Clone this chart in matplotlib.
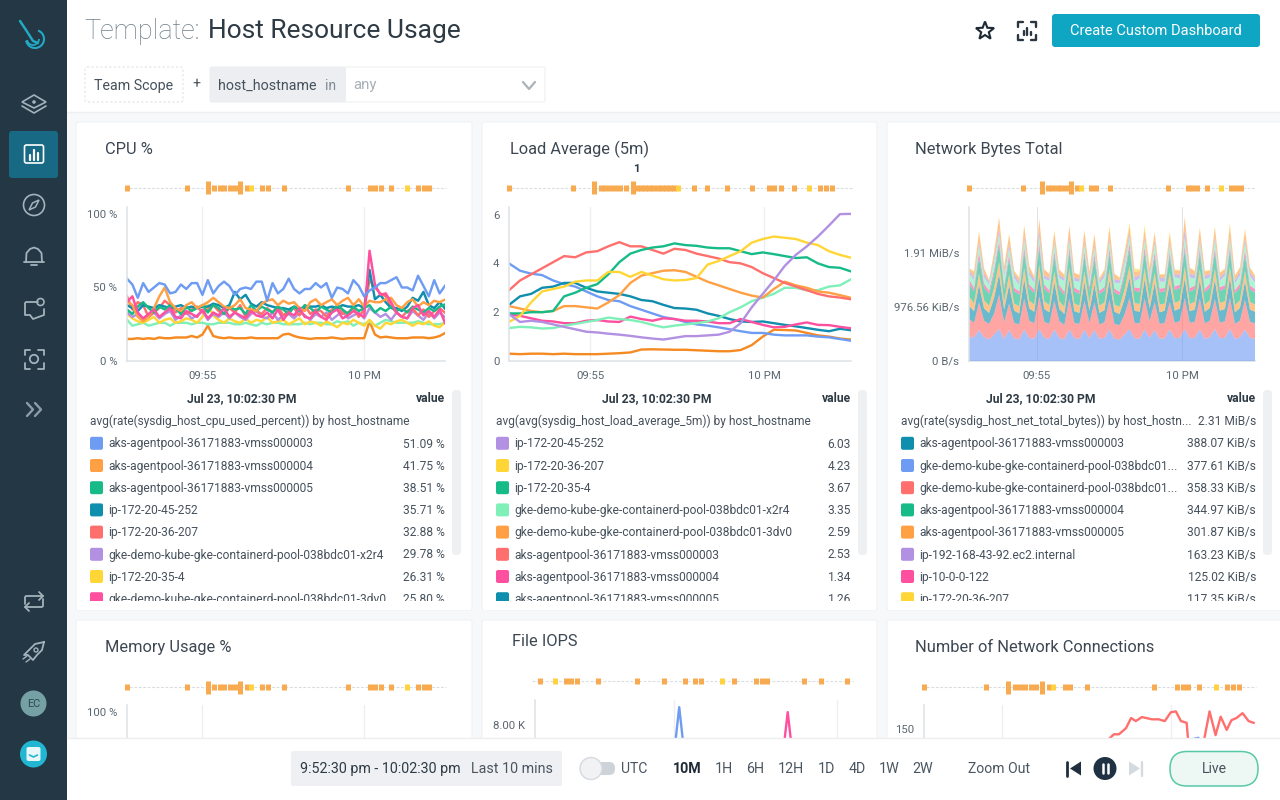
import math
import numpy as np
import matplotlib
matplotlib.use("Agg")
import matplotlib.pyplot as plt
from matplotlib.patches import FancyBboxPatch, Rectangle, Circle, Polygon, Arc

plt.rcParams['font.family'] = ['Roboto', 'DejaVu Sans']

# ---------- data ----------
page_title_prefix = "Template:"
page_title = "Host Resource Usage"
panel_titles = ["CPU %", "Load Average (5m)", "Network Bytes Total", "Memory Usage %", "File IOPS",
                "Number of Network Connections"]
time_ticks = [5, 10]
time_tick_labels = ["09:55", "10 PM"]

event_times = [2.67, 4.51, 5.17, 5.37, 5.53, 5.68, 5.84, 6.0, 6.17, 6.37, 6.51, 6.85, 7.02, 7.51, 9.51, 10.18,
               10.35, 10.51, 10.84, 11.34, 11.67, 11.84, 12.02]
event_tall = [5.17, 6.17]
event_yellow = [6.51, 11.34]
load_event_times = [2.67, 4.51, 5.11, 5.3, 5.43, 5.58, 5.72, 5.85, 6.02, 6.22, 6.34, 6.46, 6.58, 6.7, 6.82, 6.94,
                    7.06, 7.18, 7.3, 7.42, 7.54, 8.0, 8.35, 8.95, 9.65, 10.15, 10.3, 10.5, 10.85, 11.3, 11.62,
                    11.78, 11.95]
load_event_tall = [5.11, 6.22]
load_event_yellow = [7.54, 11.3]
iops_event_times = [0.86, 1.34, 1.67, 1.82, 2.0, 2.65, 3.86, 4.69, 5.34, 5.65, 5.83, 6.48, 6.85, 7.5, 7.69, 7.84,
                    8.98, 9.51, 10.31]
iops_event_yellow = [1.34, 6.48]

cpu_blue = [56, 52, 43, 53, 47, 50, 53, 52, 46, 47, 52, 49, 53, 53, 45, 55, 46, 51, 54, 51, 45, 49, 50, 49, 54, 54,
            41, 53, 46, 49, 56, 49, 46, 49, 49, 53, 50, 53, 43, 50, 49, 46, 55, 51, 44, 48, 50, 53, 53, 55, 57, 50,
            50, 48, 58, 51, 44, 55, 46, 51.09]
cpu_orange = [41, 38, 30, 27, 30, 36, 44, 50, 40, 36, 34, 38, 40, 36, 38, 40, 43, 40, 37, 36, 38, 42, 36, 35, 34, 39,
              41, 42, 38, 41, 39, 40, 36, 34, 40, 42, 38, 40, 42, 38, 41, 43, 38, 42, 37, 41, 40, 40, 42, 43, 38, 36,
              40, 42, 37, 40, 38, 41, 40, 41.75]
cpu_green = [35, 32, 37, 40, 36, 33, 37, 35, 38, 36, 32, 37, 34, 36, 38, 33, 38, 36, 32, 37, 35, 36, 32, 38, 34, 37,
             35, 33, 37, 35, 32, 37, 34, 38, 36, 33, 37, 35, 33, 38, 35, 32, 37, 34, 36, 38, 33, 36, 34, 37, 34, 36,
             33, 37, 35, 33, 36, 34, 37, 38.51]
cpu_teal = [38, 36, 34, 38, 37, 36, 38, 37, 36, 37, 38, 36, 37, 36, 37, 37, 39, 38, 36, 38, 47, 42, 45, 39, 37, 40,
            38, 37, 36, 36, 35, 37, 36, 36, 37, 37, 38, 36, 37, 36, 38, 37, 37, 38, 36, 62, 42, 45, 40, 36, 36, 34,
            37, 43, 41, 47, 38, 36, 40, 35.71]
cpu_salmon = [44, 35, 40, 38, 30, 33, 36, 41, 38, 33, 36, 32, 35, 37, 33, 35, 38, 34, 32, 36, 33, 38, 30, 35, 34, 32,
              36, 33, 37, 31, 34, 36, 31, 38, 32, 35, 34, 30, 35, 37, 32, 33, 36, 30, 35, 55, 50, 46, 44, 37, 33, 30,
              34, 36, 31, 35, 30, 34, 36, 32.88]
cpu_purple = [33, 30, 32, 28, 30, 33, 29, 32, 34, 28, 31, 33, 29, 31, 34, 28, 32, 30, 33, 29, 33, 30, 28, 32, 34, 30,
              29, 33, 28, 31, 32, 29, 33, 31, 28, 32, 30, 33, 28, 31, 34, 29, 31, 33, 29, 36, 33, 30, 32, 28, 33, 30,
              29, 34, 31, 28, 33, 29, 33, 29.78]
cpu_yellow = [32, 29, 27, 26, 28, 30, 26, 28, 29, 26, 27, 29, 28, 26, 30, 38, 31, 28, 26, 29, 27, 26, 29, 26, 28, 27,
              30, 26, 27, 28, 25, 27, 29, 25, 27, 26, 24, 27, 25, 23, 26, 25, 28, 26, 24, 28, 24, 22, 26, 25, 27, 28,
              26, 24, 26, 25, 27, 24, 23, 26.31]
cpu_pink = [40, 44, 33, 29, 32, 35, 30, 33, 36, 30, 29, 34, 32, 30, 35, 29, 33, 31, 36, 30, 33, 31, 29, 34, 31, 30,
            33, 29, 35, 28, 33, 31, 36, 30, 29, 34, 30, 28, 33, 35, 29, 31, 34, 32, 30, 75, 52, 45, 46, 40, 33, 30,
            29, 36, 38, 31, 34, 30, 35, 25.8]
cpu_mint = [28, 24, 25, 26, 24, 25, 26, 26, 24, 26, 26, 26, 25, 26, 26, 25, 25, 26, 26, 26, 25, 25, 26, 25, 24, 26,
            25, 26, 26, 25, 25, 25, 25, 26, 25, 26, 26, 25, 25, 27, 26, 27, 24, 26, 25, 27, 24, 26, 28, 27, 26, 26,
            26, 26, 27, 26, 25, 25, 25, 26]
cpu_dark = [15, 15, 15.5, 15, 15.5, 15, 16, 15.5, 15.5, 16, 16, 16, 17, 16, 18, 24, 17, 16, 15.5, 16, 15.5, 15.5,
            15.5, 16, 15.5, 15.5, 15.5, 15.5, 15.5, 18, 18.5, 17, 16, 15.5, 15, 15.5, 15.5, 15.5, 16, 15.5, 15, 15.5,
            15.5, 15.5, 15.5, 27, 18, 16, 16.5, 16, 15.5, 15.5, 15.5, 16, 16, 16, 15.5, 16, 17, 19]

load_salmon = [2.9, 3.3, 3.55, 3.8, 4.05, 4.3, 4.25, 4.45, 4.5, 4.7, 4.87, 4.7, 4.7, 4.55, 4.4, 4.6, 4.55, 4.4, 4.3,
               4.2, 4.05, 4.0, 3.85, 3.6, 3.4, 3.2, 3.05, 2.9, 2.75, 2.65, 2.6, 2.53]
load_green = [1.95, 1.95, 2.0, 2.0, 2.05, 2.65, 2.8, 3.0, 3.15, 3.55, 4.05, 4.4, 4.55, 4.65, 4.7, 4.82, 4.75, 4.72,
              4.65, 4.62, 4.62, 4.5, 4.38, 4.45, 4.38, 4.3, 4.22, 4.25, 4.0, 3.85, 3.82, 3.67]
load_yellow = [1.6, 1.85, 2.4, 2.85, 2.95, 3.05, 3.25, 3.3, 3.3, 3.65, 3.65, 3.45, 3.65, 3.5, 3.35, 3.3, 3.32, 3.4,
               3.95, 4.1, 4.3, 4.5, 4.85, 5.0, 5.1, 5.05, 5.0, 4.85, 4.75, 4.5, 4.35, 4.23]
load_orange = [2.25, 2.15, 2.05, 2.0, 2.05, 2.25, 2.25, 2.2, 2.15, 2.4, 2.7, 3.2, 3.5, 3.6, 3.7, 3.72, 3.65, 3.45,
               3.25, 3.1, 2.95, 2.8, 2.68, 2.6, 2.95, 3.25, 3.1, 3.0, 2.85, 2.8, 2.7, 2.59]
load_mint = [1.35, 1.4, 1.38, 1.33, 1.35, 1.45, 1.52, 1.6, 1.68, 1.78, 1.72, 1.68, 1.6, 1.48, 1.38, 1.45, 1.5, 1.55,
             1.62, 1.75, 2.0, 2.2, 2.45, 2.6, 2.75, 3.0, 3.0, 2.9, 2.9, 3.05, 3.1, 3.35]
load_teal = [2.3, 2.65, 2.75, 3.0, 3.05, 3.2, 3.2, 3.0, 2.85, 2.8, 2.75, 2.65, 2.5, 2.45, 2.3, 2.17, 2.15, 2.1, 1.95,
             1.85, 1.72, 1.62, 1.6, 1.62, 1.55, 1.48, 1.42, 1.35, 1.28, 1.22, 1.32, 1.26]
load_blue = [4.0, 3.7, 3.58, 3.52, 3.3, 3.15, 3.05, 2.85, 2.65, 2.5, 2.45, 2.25, 2.1, 1.95, 1.8, 1.72, 1.6, 1.5, 1.45,
             1.38, 1.3, 1.22, 1.15, 1.15, 1.08, 1.05, 1.05, 1.05, 1.0, 0.97, 0.9, 0.83]
load_pink = [1.9, 1.85, 1.75, 1.65, 1.62, 1.55, 1.55, 1.65, 1.68, 1.62, 1.6, 1.82, 1.72, 1.65, 1.75, 1.72, 1.65, 1.65,
             1.62, 1.55, 1.55, 1.72, 1.6, 1.48, 1.38, 1.4, 1.5, 1.58, 1.48, 1.47, 1.4, 1.34]
load_purple = [1.92, 1.6, 1.65, 1.6, 1.5, 1.4, 1.3, 1.2, 1.17, 1.12, 1.08, 1.03, 0.97, 0.92, 0.88, 0.95, 1.02, 1.02,
               1.05, 1.08, 1.2, 1.55, 2.2, 2.75, 3.3, 3.9, 4.35, 4.7, 5.1, 5.55, 6.02, 6.03]
load_dark = [0.3, 0.28, 0.3, 0.3, 0.28, 0.3, 0.28, 0.28, 0.28, 0.3, 0.32, 0.35, 0.47, 0.48, 0.47, 0.46, 0.46, 0.44,
             0.42, 0.4, 0.4, 0.45, 0.65, 1.0, 1.28, 1.27, 1.25, 1.15, 1.05, 1.0, 0.92, 0.88]

net_blue = [430, 430, 560, 430, 390, 480, 580, 400, 560, 410, 390, 570, 420, 400, 580, 420, 400, 570, 420, 390, 570,
            410, 400, 570, 410, 560, 400, 420, 570, 400, 390, 480, 580, 410, 400, 570, 420, 560, 400, 410, 570, 410,
            420, 580, 410, 420, 570, 400, 430, 580, 410, 420, 580, 400, 430, 570, 420, 400]
net_salmon = [330, 260, 500, 300, 280, 380, 620, 300, 480, 280, 270, 560, 310, 280, 590, 290, 270, 520, 300, 260, 560,
              280, 270, 520, 280, 500, 260, 280, 540, 270, 260, 360, 560, 280, 280, 560, 300, 510, 270, 280, 500, 280,
              300, 560, 280, 290, 560, 280, 300, 540, 280, 300, 560, 270, 300, 530, 290, 280]
net_teal = [240, 210, 320, 220, 200, 280, 370, 230, 330, 220, 200, 350, 220, 210, 360, 230, 210, 340, 220, 200, 350,
            210, 200, 340, 220, 330, 210, 220, 350, 220, 200, 280, 370, 220, 210, 350, 230, 340, 210, 220, 340, 220,
            230, 350, 210, 220, 340, 210, 230, 350, 220, 220, 360, 210, 230, 340, 220, 210]
net_orange = [170, 140, 200, 150, 130, 180, 220, 140, 190, 130, 130, 200, 140, 130, 210, 140, 130, 190, 140, 130, 200,
              140, 130, 190, 140, 190, 130, 140, 200, 130, 130, 170, 210, 140, 140, 200, 140, 190, 140, 130, 190, 140,
              140, 210, 130, 140, 190, 130, 140, 200, 140, 140, 200, 130, 140, 190, 140, 130]
net_green = [230, 220, 290, 230, 210, 260, 300, 230, 280, 220, 210, 290, 230, 210, 300, 230, 210, 280, 230, 210, 290,
             220, 210, 280, 220, 270, 210, 220, 290, 220, 210, 250, 310, 220, 220, 290, 230, 280, 220, 220, 290, 230,
             230, 300, 220, 230, 280, 220, 230, 290, 220, 230, 290, 210, 230, 280, 230, 220]
net_pink = [80, 60, 90, 70, 60, 70, 85, 60, 80, 65, 60, 90, 65, 60, 85, 70, 60, 80, 60, 65, 85, 70, 60, 75, 65, 85, 60,
            60, 85, 70, 60, 70, 90, 60, 65, 90, 60, 85, 70, 60, 80, 65, 60, 85, 70, 60, 90, 60, 70, 85, 65, 60, 85, 60,
            70, 90, 65, 60]
net_mint = [100, 150, 130, 120, 110, 150, 130, 170, 120, 180, 110, 140, 170, 120, 130, 110, 170, 140, 130, 190, 130,
            120, 160, 140, 110, 120, 130, 180, 130, 110, 150, 160, 120, 110, 180, 130, 110, 160, 130, 110, 140, 170,
            110, 160, 190, 130, 130, 180, 110, 150, 120, 170, 130, 120, 150, 140, 170, 120]
net_lavender = [60, 50, 60, 60, 50, 60, 90, 70, 70, 60, 60, 70, 60, 70, 110, 60, 50, 60, 60, 50, 70, 50, 60, 60, 60,
                60, 50, 60, 60, 60, 60, 70, 70, 70, 60, 60, 60, 70, 80, 60, 60, 60, 60, 150, 70, 60, 70, 60, 60, 60, 60,
                60, 60, 60, 60, 70, 70, 60]
net_top_orange = [30, 90, 170, 90, 30, 100, 190, 100, 170, 60, 70, 170, 100, 40, 190, 100, 70, 150, 90, 60, 180, 90,
                  60, 170, 110, 170, 40, 70, 170, 90, 40, 110, 120, 100, 70, 130, 130, 120, 40, 70, 120, 70, 80, 200,
                  100, 70, 160, 80, 60, 160, 80, 60, 170, 80, 70, 150, 80, 60]
net_yellow = [10, 20, 30, 10, 10, 20, 15, 10, 20, 10, 10, 20, 10, 10, 15, 10, 10, 30, 10, 10, 15, 10, 10, 25, 10, 25,
              10, 10, 50, 10, 15, 30, 70, 60, 30, 70, 40, 20, 10, 15, 60, 10, 15, 10, 10, 15, 30, 10, 15, 20, 10, 15,
              60, 10, 20, 40, 10, 15]

conn_times = [8.17, 8.31, 8.46, 8.67, 8.82, 8.96, 9.14, 9.44, 9.64, 9.82, 10.0, 10.15, 10.30, 10.47, 10.53, 10.95,
              11.15, 11.33, 11.48, 11.66, 11.80, 11.95, 12.13, 12.31, 12.46]
conn_salmon = [139, 144, 144, 151, 162.5, 159, 163.6, 161, 161, 159, 169, 170, 159, 157, 130, 130, 170, 143, 164, 149,
               160, 162.5, 168, 159, 157]
conn_blue_times = [10.05, 10.3, 10.5, 10.7, 10.82, 10.95]
conn_blue = [130, 137, 134, 139, 140, 128]

iops_blue_times = [4.65, 5.15, 5.65]
iops_blue = [300, 9066, 300]
iops_pink_times = [7.99, 8.49, 8.99]
iops_pink = [300, 8770, 300]

BLUE, ORANGE, GREEN, TEAL, SALMON = '#6f9cf3', '#ffa044', '#16bb88', '#108eae', '#ff6f6d'
PURPLE, YELLOW, PINK, MINT, DARK = '#b290e2', '#ffd635', '#ff4f9f', '#7ff0b8', '#f68a22'

legend_time = "Jul 23, 10:02:30 PM"
legend_cpu_metric = "avg(rate(sysdig_host_cpu_used_percent)) by host_hostname"
legend_cpu = [(BLUE, "aks-agentpool-36171883-vmss000003", "51.09 %"), (ORANGE, "aks-agentpool-36171883-vmss000004", "41.75 %"),
              (GREEN, "aks-agentpool-36171883-vmss000005", "38.51 %"), (TEAL, "ip-172-20-45-252", "35.71 %"),
              (SALMON, "ip-172-20-36-207", "32.88 %"), (PURPLE, "gke-demo-kube-gke-containerd-pool-038bdc01-x2r4", "29.78 %"),
              (YELLOW, "ip-172-20-35-4", "26.31 %"), (PINK, "gke-demo-kube-gke-containerd-pool-038bdc01-3dv0", "25.80 %")]
legend_load_metric = "avg(avg(sysdig_host_load_average_5m)) by host_hostname"
legend_load = [(PURPLE, "ip-172-20-45-252", "6.03"), (YELLOW, "ip-172-20-36-207", "4.23"), (GREEN, "ip-172-20-35-4", "3.67"),
               (MINT, "gke-demo-kube-gke-containerd-pool-038bdc01-x2r4", "3.35"),
               (ORANGE, "gke-demo-kube-gke-containerd-pool-038bdc01-3dv0", "2.59"),
               (SALMON, "aks-agentpool-36171883-vmss000003", "2.53"), (PINK, "aks-agentpool-36171883-vmss000004", "1.34"),
               (TEAL, "aks-agentpool-36171883-vmss000005", "1.26")]
legend_net_metric = "avg(rate(sysdig_host_net_total_bytes)) by host_hostn..."
legend_net_total = "2.31 MiB/s"
legend_net = [(TEAL, "aks-agentpool-36171883-vmss000003", "388.07 KiB/s"),
              (BLUE, "gke-demo-kube-gke-containerd-pool-038bdc01...", "377.61 KiB/s"),
              (SALMON, "gke-demo-kube-gke-containerd-pool-038bdc01...", "358.33 KiB/s"),
              (GREEN, "aks-agentpool-36171883-vmss000004", "344.97 KiB/s"),
              (ORANGE, "aks-agentpool-36171883-vmss000005", "301.87 KiB/s"),
              (PURPLE, "ip-192-168-43-92.ec2.internal", "163.23 KiB/s"), (PINK, "ip-10-0-0-122", "125.02 KiB/s"),
              (YELLOW, "ip-172-20-36-207", "117.35 KiB/s")]
range_labels = ["10M", "1H", "6H", "12H", "1D", "4D", "1W", "2W"]
range_x = [687, 724, 755, 791, 826, 857, 889, 923]

# ---------- layout ----------
W, H = 1280, 800
fig = plt.figure(figsize=(12.8, 8), dpi=100, facecolor='#f7f8f9')


def overlay(z):
    a = fig.add_axes([0, 0, 1, 1], zorder=z)
    a.set_xlim(0, W)
    a.set_ylim(H, 0)
    a.axis('off')
    a.patch.set_alpha(0)
    return a


bg = overlay(0)
fg = overlay(5)
PT = 0.72
TXT = '#46515c'


def txt(a, x, y, s, px=12, c=TXT, ha='left', w='normal', **k):
    a.text(x, y + 0.7, s, fontsize=px * PT, color=c, ha=ha, va='center', fontweight=w, **k)


def box(a, x0, y0, x1, y1, fc, ec='none', r=2, lw=1, z=2, **k):
    a.add_patch(FancyBboxPatch((x0, y0), x1 - x0, y1 - y0, boxstyle=f"round,pad=0,rounding_size={r}", fc=fc, ec=ec,
                               lw=lw, zorder=z, **k))


def pline(a, xs, ys, c, lw=1.2, z=6, **k):
    a.plot(xs, ys, color=c, lw=lw, zorder=z, solid_capstyle='round', solid_joinstyle='round', **k)


# page chrome
bg.add_patch(Rectangle((0, 0), W, 112, fc='white', ec='none', zorder=1))
pline(bg, [0, W], [112, 112], '#eceef0', 1, 1.5)
for x0, x1, y0, y1 in [(76, 472, 122, 610), (482, 877, 122, 610), (887, 1285, 122, 610), (76, 472, 620, 760),
                       (482, 877, 620, 760), (887, 1285, 620, 760)]:
    box(bg, x0, y0, x1, y1, 'white', '#f0f1f3', 2, 0.8, 2)

txt(bg, 84, 30.5, page_title_prefix, 27, '#6f7f88', w='light')
txt(bg, 208, 30.5, page_title, 26.4, '#2e3a44', w='normal')
bg.add_patch(FancyBboxPatch((85, 67), 98, 35, boxstyle="round,pad=0,rounding_size=2", fc='white', ec='#dfe2e6', lw=0.8,
                            ls=(0, (2, 2)), zorder=3))
txt(bg, 94, 85, "Team Scope", 14.3, TXT)
txt(bg, 196, 84, "+", 14, TXT, ha='center')
box(bg, 210, 67, 545, 102, 'white', '#eef0f2', 2, 0.8, 3)
box(bg, 210, 67, 346, 102, '#eceef1', 'none', 2, 1, 3)
txt(bg, 218, 85, "host_hostname", 14.3, TXT)
txt(bg, 325, 85, "in", 14, '#7f8a94')
txt(bg, 353, 84.5, "any", 15, '#a8b0b8')
pline(bg, [523, 529, 535], [82, 89, 82], '#aab2ba', 1.6)
box(bg, 1052, 14, 1260, 47, '#0fa6c4', 'none', 3, 1, 3)
txt(bg, 1156, 30.5, "Create Custom Dashboard", 14.6, 'white', ha='center')
star = [(985 + (9.5 if i % 2 == 0 else 4) * math.sin(i * math.pi / 5),
         31 - (9.5 if i % 2 == 0 else 4) * math.cos(i * math.pi / 5)) for i in range(10)]
bg.add_patch(Polygon(star, closed=True, fc='none', ec='#1e2a35', lw=1.5, zorder=4))
for sx, sy in [(-1, -1), (1, -1), (1, 1), (-1, 1)]:
    pline(bg, [1027 + sx * 9, 1027 + sx * 9, 1027 + sx * 4], [31 + sy * 4, 31 + sy * 9, 31 + sy * 9], '#2a3742', 1.7)
for dx, h in [(-3.5, 4), (0, 7), (3.5, 3)]:
    pline(bg, [1027 + dx, 1027 + dx], [35, 35 - h], '#2a3742', 1.7)

for (x, y), s in zip([(105, 149), (510, 149), (915, 149), (105, 647), (512, 641), (915, 647)], panel_titles):
    txt(bg, x, y, s, 16.4, '#3c4752')
txt(bg, 636, 168, "1", 11.5, '#2e3a44', ha='center', w='bold')


def legend(x_sw, x_right, center, scroll_x, metric, rows, total=None):
    txt(bg, center, 398, legend_time, 12.1, '#2e3a44', ha='center', w='bold')
    txt(bg, x_right, 398, "value", 12.1, '#2e3a44', ha='right', w='bold')
    txt(bg, x_sw, 421, metric, 11.9)
    if total:
        txt(bg, x_right, 421, total, 12, ha='right')
    for i, (c, name, val) in enumerate(rows):
        y = 443.3 + i * 22.2
        box(bg, x_sw, y - 6.5, x_sw + 13, y + 6.5, c, 'none', 2, 1, 3)
        txt(bg, x_sw + 18, y, name, 12)
        txt(bg, x_right, y, val, 12, ha='right')
    box(bg, scroll_x, 390, scroll_x + 9, 555, '#eef0f2', 'none', 4, 1, 3)


legend(90, 445, 242, 452, legend_cpu_metric, legend_cpu)
legend(496, 851, 656.5, 858, legend_load_metric, legend_load)
legend(901, 1256, 1041, 1263, legend_net_metric, legend_net, legend_net_total)
for x0, x1 in [(77, 471), (483, 876), (888, 1280)]:
    bg.add_patch(Rectangle((x0, 600.5), x1 - x0, 9, fc='white', ec='none', zorder=20))


def chart(x0, x1, y_top, y_bot, xlim, ylim, yticks, ylabels, events, tall=(), yellow=(), strip_y=188, ext=(2, 1),
          xlabels=time_tick_labels):
    a = fig.add_axes([x0 / W, 1 - y_bot / H, (x1 - x0) / W, (y_bot - y_top) / H], zorder=2)
    a.patch.set_alpha(0)
    a.set_xlim(*xlim)
    a.set_ylim(*ylim)
    for s in ['top', 'right']:
        a.spines[s].set_visible(False)
    for s in ['left', 'bottom']:
        a.spines[s].set_color('#dde1e6')
        a.spines[s].set_linewidth(1.1)
    a.set_xticks(time_ticks, xlabels)
    a.set_yticks(yticks, ylabels)
    a.tick_params(axis='both', length=0, colors='#5a6670', labelsize=11.4 * PT)
    a.tick_params(axis='y', pad=7)
    a.tick_params(axis='x', pad=7)
    a.grid(axis='x', color='#eceef1', lw=0.9)
    a.set_axisbelow(True)
    h = y_bot - y_top
    fy = (y_bot - strip_y) / h
    tr = a.get_xaxis_transform()
    px_t = (xlim[1] - xlim[0]) / (x1 - x0)
    a.plot([xlim[0] - ext[0] * px_t, xlim[1] + ext[1] * px_t], [fy, fy], transform=tr, color='#d9dce0', lw=0.8,
           ls=(0, (2.5, 1.5)), clip_on=False, zorder=1)
    for t in events:
        d = (6.5 if t in tall else 3.4) / h
        col = '#ffd23f' if t in yellow else '#f8aa50'
        a.plot([t, t], [fy - d, fy + d], transform=tr, color=col, lw=5 * PT, clip_on=False,
               solid_capstyle='butt', zorder=2)
    return a


XL = (2.67, 12.5)
cpu_ax = chart(127, 445, 207, 361, XL, (0, 154 / 1.47), [0, 50, 100], ["0 %", "50 %", "100 %"], event_times, event_tall,
               event_yellow)
for vals, c in [(cpu_dark, DARK), (cpu_mint, MINT), (cpu_yellow, YELLOW), (cpu_purple, PURPLE), (cpu_salmon, SALMON),
                (cpu_teal, TEAL), (cpu_green, GREEN), (cpu_orange, ORANGE), (cpu_pink, PINK), (cpu_blue, BLUE)]:
    cpu_ax.plot(np.linspace(XL[0], XL[1], len(vals)), vals, color=c, lw=1.75, solid_joinstyle='round')

load_ax = chart(509, 851, 207, 361, XL, (0, 154 / 24.4), [0, 2, 4, 6], ["0", "2", "4", "6"], load_event_times,
                load_event_tall, load_event_yellow)
for vals, c in [(load_dark, DARK), (load_blue, BLUE), (load_teal, TEAL), (load_pink, PINK), (load_mint, MINT),
                (load_orange, ORANGE), (load_salmon, SALMON), (load_green, GREEN), (load_yellow, YELLOW),
                (load_purple, PURPLE)]:
    load_ax.plot(np.linspace(XL[0], XL[1], len(vals)), vals, color=c, lw=1.7, solid_joinstyle='round')

net_ax = chart(969, 1255, 207, 361, XL, (0, 154 * 18.08), [0, 976.56, 1953.1], ["0 B/s", "976.56 KiB/s", "1.91 MiB/s"],
               event_times, event_tall, event_yellow)
net_layers = [net_blue, net_salmon, net_teal, net_orange, net_green, net_pink, net_mint, net_lavender, net_top_orange,
              net_yellow]
net_colors = [BLUE, SALMON, TEAL, ORANGE, GREEN, PINK, MINT, PURPLE, ORANGE, YELLOW]
net_ax.stackplot(np.linspace(XL[0], XL[1], len(net_blue)), net_layers, colors=net_colors, alpha=0.62, lw=0, zorder=3)
net_ax.set_axisbelow(False)
net_ax.grid(axis='x', color='#a9adb5', lw=0.5, alpha=0.5)
net_ax.spines['left'].set_zorder(5)

no_x = ["", ""]
mem_ax = chart(127, 445, 705, 859, XL, (0, 154 / 1.47), [100], ["100 %"], event_times, event_tall,
               event_yellow, strip_y=687, xlabels=no_x)

iops_ax = chart(535, 853, 700, 860, (0.71, 10.5), (0, 160 * 59.3), [8000], ["8.00 K"],
                iops_event_times, (), iops_event_yellow, strip_y=681, ext=(3, 0), xlabels=no_x)
iops_ax.plot(iops_blue_times, iops_blue, color=BLUE, lw=1.7)
iops_ax.plot(iops_pink_times, iops_pink, color=PINK, lw=1.7)

conn_ax = chart(924, 1255, 705, 861, XL, (0, 156 / 0.88), [150], ["150"], event_times,
                event_tall, event_yellow, strip_y=687, xlabels=no_x)
conn_ax.plot(conn_blue_times, conn_blue, color=BLUE, lw=1.7)
conn_ax.plot(conn_times, conn_salmon, color=SALMON, lw=1.7)

# footer
fg.add_patch(Rectangle((67, 738), W, 62, fc='white', ec='none', zorder=1))
pline(fg, [67, W], [738, 738], '#eceef0', 1, 1.5)
box(fg, 291, 751, 562, 786, '#eef0f3', 'none', 2, 1, 2)
txt(fg, 300, 768, "9:52:30 pm - 10:02:30 pm", 14.3, '#2e3a44')
txt(fg, 471, 768, "Last 10 mins", 14.3, '#4a5560')
box(fg, 589, 762, 615, 775, '#cdd3d9', 'none', 6, 1, 2)
fg.add_patch(Circle((591, 768.5), 11, fc='#f0f2f4', ec='#d6dade', lw=1, zorder=3))
txt(fg, 621, 768, "UTC", 14, '#4a5560')
for s, x in zip(range_labels, range_x):
    txt(fg, x, 768, s, 14.2, '#1e2a35' if s == "10M" else '#4a5560', ha='center', w='bold' if s == "10M" else 'normal')
txt(fg, 968, 768, "Zoom Out", 14, '#4a5560')
pline(fg, [1067, 1067], [761.5, 775.5], '#1f2f3d', 2)
fg.add_patch(Polygon([(1081, 761.5), (1081, 775.5), (1070, 768.5)], fc='#1f2f3d', ec='none', zorder=3))
fg.add_patch(Circle((1105, 768.5), 11.5, fc='#1f3142', ec='none', zorder=3))
for dx in (-2.5, 2.5):
    pline(fg, [1105 + dx, 1105 + dx], [764, 773], 'white', 1.8)
fg.add_patch(Polygon([(1129, 761.5), (1129, 775.5), (1140, 768.5)], fc='#d3dae0', ec='none', zorder=3))
pline(fg, [1142, 1142], [761.5, 775.5], '#d3dae0', 1.6)
box(fg, 1170, 751.5, 1258, 786, '#edf8f4', '#57c9a6', 17, 1.1, 3)
txt(fg, 1214, 768, "Live", 14, TXT, ha='center', zorder=6)

# sidebar
fg.add_patch(Rectangle((0, 0), 67, H, fc='#243745', ec='none', zorder=1))
box(fg, 9, 131, 58, 178, '#186a84', 'none', 3, 1, 2)
IC = '#a3b2bb'
pline(fg, [20, 26, 33, 38], [21, 30, 41, 43], '#22a9c4', 1.8)
fg.add_patch(Arc((35, 39), 18, 18, theta1=-70, theta2=170, ec='#22a9c4', lw=1.5, zorder=5))
fg.add_patch(Arc((33, 39), 12, 12, theta1=0, theta2=170, ec='#22a9c4', lw=1.3, zorder=5))
fg.add_patch(Polygon([(34, 95), (46, 102), (34, 108), (22, 102)], fc='none', ec=IC, lw=1.2, zorder=5))
pline(fg, [22, 34, 46], [106, 113, 106], IC, 1.2)
fg.add_patch(Circle((34, 102), 1.8, fc=IC, ec='none', zorder=5))
box(fg, 24.5, 145, 43.5, 163, 'none', '#ffffff', 2, 1.2, 5)
for dx, top in [(-4, 155), (0, 150), (4, 153)]:
    pline(fg, [34 + dx, 34 + dx], [160, top], 'white', 1.6)
fg.add_patch(Circle((34, 205), 10.5, fc='none', ec=IC, lw=1.2, zorder=5))
fg.add_patch(Polygon([(39, 200), (35.5, 207), (29, 210), (32.5, 203)], fc='none', ec=IC, lw=1.1, zorder=5))
pline(fg, [26, 26.5, 30, 34, 38, 41.5, 42], [262, 253, 249, 247.5, 249, 253, 262], IC, 1.3)
pline(fg, [24, 44], [262, 262], IC, 1.3)
pline(fg, [31, 37], [265, 265], IC, 1.3)
pline(fg, [38, 26, 25, 25, 30, 33, 44, 44], [302, 302, 303, 315, 315, 319, 315, 309], IC, 1.3)
fg.add_patch(Circle((40.5, 302), 3.5, fc='none', ec=IC, lw=1.2, zorder=5))
for sx, sy in [(-1, -1), (1, -1), (1, 1), (-1, 1)]:
    pline(fg, [34 + sx * 9.5, 34 + sx * 9.5, 34 + sx * 4], [359 + sy * 4, 359 + sy * 9.5, 359 + sy * 9.5], IC, 1.3)
fg.add_patch(Circle((34, 359), 4.2, fc='none', ec=IC, lw=1.3, zorder=5))
pline(fg, [27, 33, 27], [403, 409.5, 416], '#8b9ca6', 1.7)
pline(fg, [35, 41, 35], [403, 409.5, 416], '#8b9ca6', 1.7)
pline(fg, [43, 26, 25, 25], [596, 596, 597, 604], IC, 1.3)
pline(fg, [39, 43, 39], [592, 596, 600], IC, 1.3)
pline(fg, [25, 42, 43, 43], [607, 607, 606, 599], IC, 1.3)
pline(fg, [29, 25, 29], [603, 607, 611], IC, 1.3)
pline(fg, [44, 35, 27, 24, 28, 33, 37, 42, 44], [642, 644, 652, 655, 655, 660, 655, 650, 642], IC, 1.3)
fg.add_patch(Circle((36, 650), 2, fc='none', ec=IC, lw=1, zorder=5))
pline(fg, [23, 27], [659, 656], IC, 1)
pline(fg, [26, 30], [662, 659], IC, 1)
fg.add_patch(Circle((33.5, 703.5), 13, fc='#75a1a5', ec='none', zorder=3))
txt(fg, 33.5, 703, "EC", 11, '#2d4a55', ha='center', zorder=6)
fg.add_patch(Circle((33.5, 754), 13.5, fc='#21b7d2', ec='none', zorder=3))
box(fg, 26.5, 747, 40.5, 761, '#e9f6fa', 'none', 2, 1, 4)
pline(fg, [29.5, 33.5, 37.5], [755, 757, 755], '#21b7d2', 1.2)

fig.savefig('out.png', dpi=100, facecolor=fig.get_facecolor())
